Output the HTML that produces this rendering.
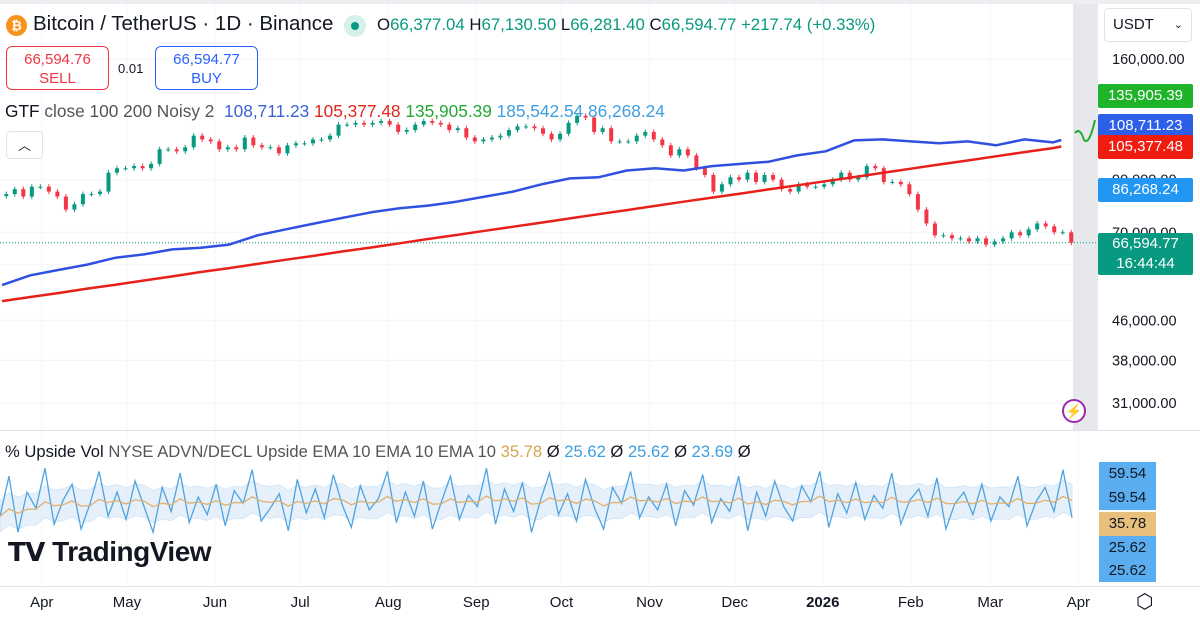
<!DOCTYPE html>
<html><head><meta charset="utf-8">
<style>
body{margin:0;width:1200px;height:627px;overflow:hidden;background:#fff;font-family:"Liberation Sans",sans-serif;color:#131722}
.abs{position:absolute}
.box{position:absolute;border-radius:6px;text-align:center;font-size:15px;line-height:19px;padding-top:3px;box-sizing:border-box}
.tag{position:absolute;left:1098px;width:95px;height:24px;line-height:24px;font-size:15px;color:#fff;text-align:center;border-radius:2px}
</style></head><body>
<svg id="chart" class="abs" style="left:0;top:0" width="1200" height="627"></svg>

<div class="abs" style="left:0;top:0;width:1200px;height:4px;background:#eceef2"></div>
<div class="abs" style="left:6px;top:15px;width:21px;height:21px;border-radius:50%;background:#f7931a;color:#fff;font-size:13px;text-align:center;line-height:21px;font-weight:bold">₿</div>
<div class="abs" style="left:33px;top:12px;font-size:20.5px;white-space:nowrap">Bitcoin / TetherUS · 1D · Binance</div>
<div class="abs" style="left:344px;top:15px;width:22px;height:22px;border-radius:50%;background:#d6f0ea"><div style="margin:7px;width:8px;height:8px;border-radius:50%;background:#089981"></div></div>
<div class="abs" style="left:377px;top:15px;font-size:16.8px;color:#089981;white-space:nowrap"><span style="color:#131722">O</span>66,377.04 <span style="color:#131722">H</span>67,130.50 <span style="color:#131722">L</span>66,281.40 <span style="color:#131722">C</span>66,594.77 +217.74 (+0.33%)</div>

<div class="box" style="left:6px;top:46px;width:103px;height:44px;border:1px solid #f23645;color:#f23645">66,594.76<br>SELL</div>
<div class="abs" style="left:118px;top:61px;font-size:13px">0.01</div>
<div class="box" style="left:155px;top:46px;width:103px;height:44px;border:1px solid #2962ff;color:#2962ff">66,594.77<br>BUY</div>

<div class="abs" style="left:5px;top:101px;font-size:17.3px;white-space:nowrap">GTF <span style="color:#555">close 100 200 Noisy 2</span> &nbsp;<span style="color:#3d62d6">108,711.23</span> <span style="color:#e0281e">105,377.48</span> <span style="color:#22a832">135,905.39</span> <span style="color:#3d9ee0">185,542.54</span> <span style="color:#3d9ee0">86,268.24</span></div>
<div class="abs" style="left:6px;top:131px;width:35px;height:26px;border:1px solid #e0e3eb;border-radius:4px;text-align:center;line-height:28px;font-size:13px;background:#fff">︿</div>

<div class="abs" style="left:1104px;top:8px;width:88px;height:34px;border:1px solid #e0e3eb;border-radius:4px;box-sizing:border-box;font-size:15px;line-height:32px;padding-left:8px">USDT <span style="float:right;margin-right:8px;font-size:11px">⌄</span></div>

<div class="abs" style="left:5px;top:442px;font-size:16.6px;white-space:nowrap">% Upside Vol <span style="color:#555">NYSE ADVN/DECL Upside EMA 10 EMA 10 EMA 10</span> <span style="color:#d4a550">35.78</span> Ø <span style="color:#3d9ee0">25.62</span> Ø <span style="color:#3d9ee0">25.62</span> Ø <span style="color:#3d9ee0">23.69</span> Ø</div>

<div class="abs" style="left:8px;top:536px;font-size:28px;font-weight:bold;letter-spacing:-0.5px;white-space:nowrap"><span style="font-size:26px">𝗧𝗩</span> TradingView</div>

<div class="abs" style="left:1062px;top:399px;width:24px;height:24px;border-radius:50%;border:2px solid #9c27b0;box-sizing:border-box;color:#9c27b0;text-align:center;font-size:14px;line-height:20px;background:#fff">⚡</div>
<div class="abs" style="left:1136px;top:589px;font-size:20px;color:#131722">⬡</div>

<script>
const closes=[84,86,83,87,87,85,83,78,80,84,84,85,93,95,95,96,95,97,104,104,103,105,111,109,108,104,105,104,110,106,105,105,102,106,107,107,109,109,111,117,117,118,117,118,119,117,113,114,117,119,118,117,114,115,110,108,109,110,111,114,116,116,115,112,109,112,118,122,121,113,115,108,108,108,111,113,109,106,101,104,101,95,92,85,88,91,90,93,89,92,90,86,85,88,87,87,88,90,93,90,91,96,95,89,89,88,84,78,73,69,69,68,68,67,68,66,67,68,70,69,71,73,72,70,70,66.6];
const gtfBlue=[54.4,57,58.5,60,62,63,64.5,65,66,69,71,73,75,77,78.5,79.5,81,83,85,88,90.5,91,94,95,94,96,97,98,101,103,108.5,109,108,107,108,106,109,107.5,108.7];
const gtfRed=[50.4,51.4,52.4,53.5,54.5,55.6,56.7,57.9,59.0,60.2,61.4,62.6,63.9,65.1,66.4,67.8,69.1,70.5,71.9,73.3,74.8,76.3,77.8,79.4,81.0,82.6,84.2,85.9,87.6,89.3,91.1,92.9,94.8,96.7,98.6,100.6,102.6,104.6,105.4];
const upsideVol=[30,55,20,45,35,60,25,40,50,22,38,58,30,45,28,52,36,20,48,33,57,26,42,31,50,24,46,38,59,27,35,44,21,53,32,47,29,56,37,23,49,34,41,58,26,45,30,52,22,39,55,28,43,36,60,25,47,33,51,20,40,57,31,44,27,53,35,22,48,38,58,29,42,34,50,24,46,37,56,26,41,33,55,21,45,30,52,36,27,49,39,58,23,44,32,51,28,43,35,57,25,40,47,30,54,22,38,45,31,50,27,42,36,55,24,39,48,33,59,29];
const months=["Apr","May","Jun","Jul","Aug","Sep","Oct","Nov","Dec","2026","Feb","Mar","Apr"];
const monthDays=[14,44,75,105,136,167,197,228,258,289,320,348,379];
const priceTicks=[160,90,70,60,46,38,31];
const priceTickLabels=["160,000.00","90,000.00","70,000.00","60,000.00","46,000.00","38,000.00","31,000.00"];

const NS="http://www.w3.org/2000/svg";
const svg=document.getElementById('chart');
const xDay=d=>2+d*2.84;
const yP=p=>59+Math.log(160/p)*209.6;
const yO=v=>545-(v-12)*1.6;
function el(t,a,parent){const e=document.createElementNS(NS,t);for(const k in a)e.setAttribute(k,a[k]);(parent||svg).appendChild(e);return e;}

priceTicks.forEach(p=>{const l=el('line',{x1:0,x2:1098,y1:yP(p),y2:yP(p),stroke:'#f3f5fa'});

});
monthDays.forEach(d=>{const l=el('line',{x1:xDay(d),x2:xDay(d),y1:4,y2:585,stroke:'#f3f5fa'});

});
const band=el('rect',{x:1073,y:4,width:25,height:426,fill:'#e6e8ec'});


const sep=el('line',{x1:0,x2:1200,y1:430.5,y2:430.5,stroke:'#e0e3eb'});


const sep2=el('line',{x1:0,x2:1200,y1:586.5,y2:586.5,stroke:'#e0e3eb'});



const cur=el('line',{x1:0,x2:1098,y1:yP(66.6),y2:yP(66.6),stroke:'#089981','stroke-dasharray':'1 2'});



const cg=el('g',{});


for(let i=0;i<closes.length;i++){
  const o=i?closes[i-1]:closes[0]*0.99,c=closes[i];
  const up=c>=o,col=up?'#089981':'#f23645';
  const hi=Math.max(o,c)*1.012,lo=Math.min(o,c)*0.988;
  const x=xDay(i*3+1.5);
  const w=el('line',{x1:x,x2:x,y1:yP(hi),y2:yP(lo),stroke:col,'stroke-width':1},cg);
  
  
  const top=yP(Math.max(o,c)),bot=yP(Math.min(o,c));
  const r=el('rect',{x:x-2,y:top,width:4,height:Math.max(1,bot-top),fill:col},cg);
  
  
}
function line(arr,col,name,w){let d='';arr.forEach((v,i)=>{const d0=Math.min(i*10,373);d+=(i?'L':'M')+xDay(d0).toFixed(1)+','+yP(v).toFixed(1);});
 const p=el('path',{d:d,fill:'none',stroke:col,'stroke-width':w,'stroke-linejoin':'round'});
 
 }
line(gtfRed,'#e8201a','gtf-red-line',2.5);
line(gtfBlue,'#3050e0','gtf-blue-line',2.5);
const sq=el('path',{d:'M1075,133 Q1080,127 1084,140 Q1089,146 1095,120',fill:'none',stroke:'#22ab30','stroke-width':2});



const n=upsideVol.length,xs=i=>i*1072/(n-1);
let ema=[],e=upsideVol[0];upsideVol.forEach(v=>{e=e+(v-e)*2/11;ema.push(e);});
let bandTop='',bandBot=[];
ema.forEach((v,i)=>{bandTop+=(i?'L':'M')+xs(i).toFixed(1)+','+yO(v+10).toFixed(1);bandBot.push(xs(i).toFixed(1)+','+yO(v-10).toFixed(1));});
const bp=el('path',{d:bandTop+'L'+bandBot.reverse().join('L')+'Z',fill:'#dcebf8',opacity:0.7,stroke:'#b5d5f0','stroke-width':0.7});


let od='',ed='';
upsideVol.forEach((v,i)=>{od+=(i?'L':'M')+xs(i).toFixed(1)+','+yO(v).toFixed(1);});
ema.forEach((v,i)=>{ed+=(i?'L':'M')+xs(i).toFixed(1)+','+yO(v).toFixed(1);});
const ol=el('path',{d:od,fill:'none',stroke:'#4ea3e0','stroke-width':1.3});


const el2=el('path',{d:ed,fill:'none',stroke:'#e0b070','stroke-width':1.3});



months.forEach((m,i)=>{const t=el('text',{x:xDay(monthDays[i]),y:607,'text-anchor':'middle','font-size':15,fill:'#131722','font-family':'Liberation Sans, sans-serif','font-weight':m==='2026'?'bold':'normal'});t.textContent=m;

});
priceTicks.forEach((p,i)=>{const t=el('text',{x:1112,y:yP(p)+5,'font-size':14.5,fill:'#131722','font-family':'Liberation Sans, sans-serif'});t.textContent=priceTickLabels[i];

});
</script>

<div class="tag" style="top:84px;background:#1fb32a">135,905.39</div>
<div class="tag" style="top:114px;background:#2c5ee8">108,711.23</div>
<div class="tag" style="top:135px;background:#f01c10">105,377.48</div>
<div class="tag" style="top:178px;background:#2196f3">86,268.24</div>
<div class="tag" style="top:233px;height:42px;line-height:20px;padding-top:1px;box-sizing:border-box;background:#089981">66,594.77<br>16:44:44</div>

<div class="abs" style="left:1099px;top:462px;width:57px;height:48px;background:#5aaef0;font-size:15px;line-height:24px;text-align:center">59.54<br>59.54</div>
<div class="abs" style="left:1099px;top:512px;width:57px;height:24px;background:#e8c07c;font-size:15px;line-height:24px;text-align:center">35.78</div>
<div class="abs" style="left:1099px;top:536px;width:57px;height:46px;background:#5aaef0;font-size:15px;line-height:23px;text-align:center">25.62<br>25.62</div>
</body></html>
